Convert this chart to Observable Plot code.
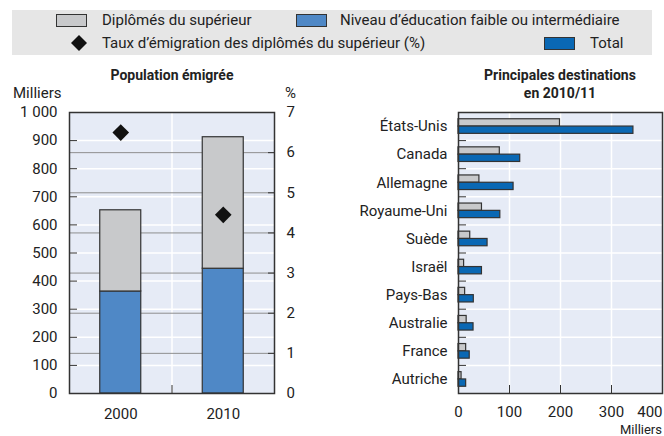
<!DOCTYPE html>
<html><head><meta charset="utf-8">
<script src="https://cdn.jsdelivr.net/npm/d3@7"></script>
<script src="https://cdn.jsdelivr.net/npm/@observablehq/plot@0.6"></script>
<style>
body{margin:0;background:#fff;}
#wrap{position:relative;width:664px;height:436px;overflow:hidden;font-family:Roboto,sans-serif;color:#222;font-size:15px;}
.abs{position:absolute;white-space:nowrap;line-height:1;}
.sw{position:absolute;width:31px;height:13px;border:1px solid #333;box-sizing:border-box;}
.title{font-weight:bold;font-size:14px;text-align:center;}
#left,#right{position:absolute;top:60px;}
#left{left:0}#right{left:330px}
</style></head>
<body><div id="wrap">
  <div class="abs" style="left:12px;top:10px;width:640px;height:45px;background:#e6e6e6"></div>
  <div class="sw" style="left:56px;top:14px;background:#c8c9cb"></div>
  <div class="abs" style="left:102px;top:13px">Diplômés du supérieur</div>
  <div class="sw" style="left:296px;top:14px;background:#4f88c6"></div>
  <div class="abs" style="left:340px;top:13px">Niveau d’éducation faible ou intermédiaire</div>
  <svg class="abs" style="left:70px;top:34px" width="18" height="18"><path d="M9,1L17,9L9,17L1,9Z" fill="#111"/></svg>
  <div class="abs" style="left:102px;top:36px">Taux d’émigration des diplômés du supérieur (%)</div>
  <div class="sw" style="left:544px;top:37px;background:#0a68b4"></div>
  <div class="abs" style="left:590px;top:36px">Total</div>

  <div class="abs title" style="left:72px;top:68px;width:200px">Population émigrée</div>
  <div class="abs title" style="left:460px;top:66px;width:200px;line-height:18px">Principales destinations<br>en 2010/11</div>
  <div class="abs" style="left:13px;top:86px">Milliers</div>
  <div class="abs" style="left:285px;top:86px">%</div>
  <div class="abs" style="right:2px;top:423px;font-size:13px">Milliers</div>
  <div id="left"></div>
  <div id="right"></div>
</div>
<script>
// ---- data ----
const years = ["2000", "2010"];
const lowMid = [363, 444];          // Niveau d'éducation faible ou intermédiaire (milliers)
const tertiary = [289, 468];        // Diplômés du supérieur (milliers)
const emigRate = [6.5, 4.45];       // Taux d'émigration des diplômés du supérieur (%)
const leftTicks = [0, 100, 200, 300, 400, 500, 600, 700, 800, 900, 1000];
const pctTicks = [0, 1, 2, 3, 4, 5, 6, 7];

const countries = ["États-Unis", "Canada", "Allemagne", "Royaume-Uni", "Suède", "Israël", "Pays-Bas", "Australie", "France", "Autriche"];
const destTertiary = [199, 81, 41, 46, 23, 11, 13, 16, 15, 6];
const destTotal = [343, 121, 108, 82, 57, 46, 30, 29.5, 22, 15];
const rightTicks = [0, 100, 200, 300, 400];

// ---- styles ----
const FONT = "Roboto, sans-serif";
const BG = "#e6ebf6", GRAY = "#c8c9cb", BLUE = "#4f88c6", DARK = "#0a68b4", INK = "#333";

const pctMax = pctTicks[pctTicks.length - 1], kMax = leftTicks[leftTicks.length - 1];
const toK = p => p * kMax / pctMax;
const fmt = d => d3.format(",")(d).replace(/,/g, " ");

const rows = years.map((year, i) => ({i, year, low: lowMid[i], tot: lowMid[i] + tertiary[i], rate: emigRate[i]}));

const left = Plot.plot({
  width: 330, height: 376,
  marginLeft: 69, marginRight: 56, marginTop: 52, marginBottom: 43,
  style: {fontFamily: FONT, fontSize: "15px", color: "#222", background: "transparent"},
  x: {domain: [0, years.length], axis: null},
  y: {domain: [0, kMax], axis: null},
  marks: [
    Plot.frame({fill: BG}),
    Plot.ruleY(leftTicks.slice(1, -1), {stroke: "#fff", strokeWidth: 1.5}),
    Plot.ruleX(d3.range(1, years.length), {stroke: "#fff", strokeWidth: 1.5}),
    Plot.ruleY(pctTicks.slice(1, -1), {y: toK, stroke: "#8e8e8e", strokeWidth: 1}),
    Plot.rectY(rows, {x1: d => d.i + 0.3, x2: d => d.i + 0.7, y1: 0, y2: "low", fill: BLUE, stroke: INK, strokeWidth: 1.2}),
    Plot.rectY(rows, {x1: d => d.i + 0.3, x2: d => d.i + 0.7, y1: "low", y2: "tot", fill: GRAY, stroke: INK, strokeWidth: 1.2}),
    Plot.dot(rows, {x: d => d.i + 0.5, y: d => toK(d.rate), symbol: "diamond2", r: 7.5, fill: "#111", stroke: null}),
    Plot.axisY({ticks: leftTicks, tickSize: -8, tickPadding: 20, tickFormat: fmt, label: null, stroke: INK}),
    Plot.axisY({anchor: "right", ticks: pctTicks.map(toK), tickSize: -7, tickPadding: 19, tickFormat: d => Math.round(d * pctMax / kMax), label: null, stroke: INK}),
    Plot.axisX({ticks: years.map((_, i) => i + 0.5), tickSize: 0, tickPadding: 15, tickFormat: d => years[Math.floor(d)], label: null}),
    Plot.axisX({ticks: d3.range(1, years.length), tickSize: -8, tickFormat: () => "", label: null, stroke: INK}),
    Plot.frame({stroke: INK, strokeWidth: 1.5})
  ]
});
document.getElementById("left").append(left);

const drows = countries.map((c, i) => ({i, c, t: destTertiary[i], tot: destTotal[i]}));
const right = Plot.plot({
  width: 334, height: 376,
  marginLeft: 128, marginRight: 2, marginTop: 52, marginBottom: 43,
  style: {fontFamily: FONT, fontSize: "15px", color: "#222", background: "transparent"},
  x: {domain: [0, rightTicks[rightTicks.length - 1]], axis: null},
  y: {domain: [0, countries.length], reverse: true, axis: null},
  marks: [
    Plot.frame({fill: BG}),
    Plot.ruleX(rightTicks.slice(1, -1), {stroke: "#fff", strokeWidth: 1.5}),
    Plot.ruleY(d3.range(1, countries.length), {stroke: "#fff", strokeWidth: 1.5}),
    Plot.rectX(drows, {x1: 0, x2: "t", y1: d => d.i + 0.24, y2: d => d.i + 0.5, fill: GRAY, stroke: INK, strokeWidth: 1.2}),
    Plot.rectX(drows, {x1: 0, x2: "tot", y1: d => d.i + 0.5, y2: d => d.i + 0.76, fill: DARK, stroke: INK, strokeWidth: 1.2}),
    Plot.axisY({ticks: d3.range(1, countries.length), tickSize: -8, tickFormat: () => "", label: null, stroke: INK}),
    Plot.axisY({ticks: countries.map((_, i) => i + 0.5), tickSize: 0, tickPadding: 11, tickFormat: d => countries[Math.floor(d)], label: null}),
    Plot.axisX({ticks: rightTicks.slice(1, -1), tickSize: -8, tickFormat: () => "", label: null, stroke: INK}),
    Plot.axisX({ticks: rightTicks.slice(0, -1), tickSize: 0, tickPadding: 13, label: null}),
    Plot.axisX({ticks: rightTicks.slice(-1), tickSize: 0, tickPadding: 13, textAnchor: "end", label: null}),
    Plot.frame({stroke: INK, strokeWidth: 1.5})
  ]
});
document.getElementById("right").append(right);
</script>
</body></html>
